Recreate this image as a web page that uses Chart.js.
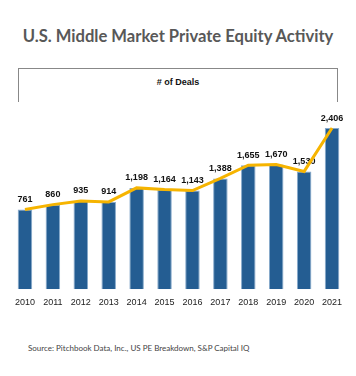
<!DOCTYPE html>
<html>
<head>
<meta charset="utf-8">
<script src="https://cdn.jsdelivr.net/npm/chart.js@4"></script>
<style>
  html, body { margin: 0; padding: 0; background: #fff; }
  body { width: 356px; height: 376px; position: relative; overflow: hidden; }
  #title { position: absolute; left: 0; width: 356px; top: 26px; text-align: center;
    font-family: Lato, "Open Sans", sans-serif; font-weight: 700; font-size: 16.6px; color: #585858; line-height: 20px; }
  #box { position: absolute; left: 18px; top: 68px; width: 318px; height: 33px;
    border: 1px solid #888; border-bottom: none; }
  #sub { position: absolute; left: 0; width: 356px; top: 76px; text-align: center;
    font-family: "Liberation Sans", Arial, sans-serif; font-weight: 700; font-size: 9px; color: #111; line-height: 12px; }
  #src { position: absolute; left: 28px; top: 342px;
    font-family: Lato, sans-serif; font-size: 8px; color: #444; line-height: 12px; }
  #wrap { position: absolute; left: 0; top: 103px; width: 356px; height: 215px; }
</style>
</head>
<body>
<div id="title">U.S. Middle Market Private Equity Activity</div>
<div id="box"></div>
<div id="sub"># of Deals</div>
<div id="wrap"><canvas id="c" width="356" height="215"></canvas></div>
<div id="src">Source: Pitchbook Data, Inc., US PE Breakdown, S&amp;P Capital IQ</div>
<script>
const years = ["2010","2011","2012","2013","2014","2015","2016","2017","2018","2019","2020","2021"];
const deals = [761, 860, 935, 914, 1198, 1164, 1143, 1388, 1655, 1670, 1530, 2406];
const axisMin = -847;
const axisMax = 2770;

const labelPlugin = {
  id: 'barLabels',
  afterDatasetDraw(chart, args) {
    if (args.index !== 0) return;
    const ctx = chart.ctx;
    ctx.save();
    ctx.font = 'bold 9px "Liberation Sans", Arial, sans-serif';
    ctx.fillStyle = '#111';
    ctx.textAlign = 'center';
    ctx.textBaseline = 'middle';
    args.meta.data.forEach((bar, i) => {
      ctx.fillText(deals[i].toLocaleString('en-US'), bar.x, bar.y - 10);
    });
    ctx.restore();
  }
};

new Chart(document.getElementById('c'), {
  type: 'bar',
  data: {
    labels: years,
    datasets: [
      {
        type: 'bar',
        data: deals,
        base: axisMin,
        backgroundColor: '#245d92',
        borderColor: '#86a9cb',
        borderWidth: 1,
        categoryPercentage: 1,
        barPercentage: 0.52,
        order: 2
      },
      {
        type: 'line',
        data: deals,
        borderColor: '#f6b400',
        borderWidth: 3,
        pointRadius: 0,
        tension: 0,
        fill: false,
        order: 1
      }
    ]
  },
  options: {
    responsive: false,
    animation: false,
    devicePixelRatio: 1,
    layout: { padding: { left: 11, right: 10, top: 7, bottom: 2 } },
    plugins: { legend: { display: false }, tooltip: { enabled: false } },
    scales: {
      x: {
        grid: { display: false, drawTicks: false },
        border: { display: false },
        ticks: { color: '#222', padding: 8, font: { family: '"Liberation Sans", Arial, sans-serif', size: 9 } }
      },
      y: {
        display: false,
        min: axisMin,
        max: axisMax
      }
    }
  },
  plugins: [labelPlugin]
});
</script>
</body>
</html>
